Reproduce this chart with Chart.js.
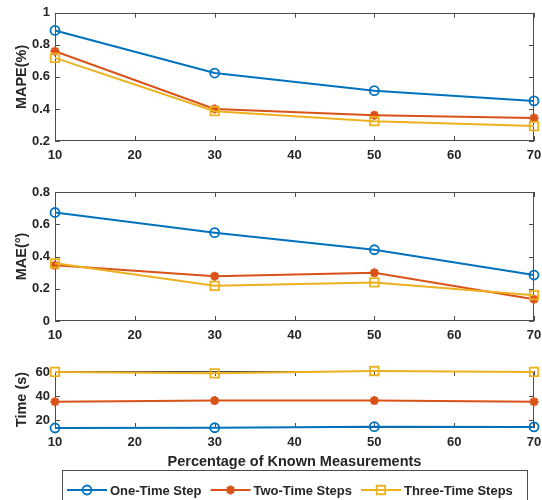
<!DOCTYPE html>
<html>
<head>
<meta charset="utf-8">
<script src="https://cdn.jsdelivr.net/npm/chart.js@4.4.0/dist/chart.umd.min.js"></script>
<style>
  body { margin: 0; background: #fff; width: 542px; height: 500px; position: relative; overflow: hidden }
  canvas { position: absolute; left: 0 }
</style>
</head>
<body>
<canvas id="c1" width="542" height="165" style="top:0"></canvas>
<canvas id="c2" width="542" height="180" style="top:165px"></canvas>
<canvas id="c3" width="542" height="155" style="top:345px"></canvas>
<script>
const pct = [10, 30, 50, 70]
const xTicks = [10, 20, 30, 40, 50, 60, 70]
const names = ['One-Time Step', 'Two-Time Steps', 'Three-Time Steps']

const mapeOne = [0.89, 0.624, 0.514, 0.45]
const mapeTwo = [0.76, 0.40, 0.361, 0.343]
const mapeThree = [0.719, 0.386, 0.324, 0.293]
const mapeTicks = [0.2, 0.4, 0.6, 0.8, 1]

const maeOne = [0.673, 0.548, 0.442, 0.285]
const maeTwo = [0.345, 0.278, 0.299, 0.135]
const maeThree = [0.358, 0.218, 0.239, 0.16]
const maeTicks = [0, 0.2, 0.4, 0.6, 0.8]

const timeOne = [13.7, 13.9, 14.8, 14.6]
const timeTwo = [35.5, 36.5, 36.5, 35.5]
const timeThree = [60.2, 59.1, 61, 60.2]
const timeTicks = [20, 40, 60]

const colors = ['#0072BD', '#D95319', '#EDB120']
const markers = ['circle', 'star', 'rect']
const radii = [4.5, 4.5, 6]
const markerWidths = [1.8, 2.6, 1.8]
const FONT = "'Liberation Sans', Arial, sans-serif"
const TXT = '#262626'
const AX = '#4d4d4d'

function makeSets(vals) {
  return vals.map((v, i) => ({
    label: names[i],
    data: pct.map((x, j) => ({ x: x, y: v[j] })),
    borderColor: colors[i],
    backgroundColor: colors[i],
    pointStyle: markers[i],
    pointRadius: radii[i],
    pointBorderWidth: markerWidths[i],
    pointBackgroundColor: 'rgba(0,0,0,0)',
    borderWidth: 2,
    tension: 0,
    clip: false,
    order: 3 - i
  }))
}

// box round the plot area with inward ticks on all four sides
const boxTicks = {
  id: 'boxTicks',
  beforeDatasetsDraw(chart) {
    const { ctx, chartArea: { left, right, top, bottom }, scales: { x, y } } = chart
    ctx.save()
    ctx.strokeStyle = AX
    ctx.lineWidth = 1
    ctx.strokeRect(Math.round(left) + 0.5, Math.round(top) + 0.5, Math.round(right - left) - 1, Math.round(bottom - top) - 1)
    ctx.beginPath()
    x.ticks.forEach(t => {
      const px = Math.round(x.getPixelForValue(t.value)) + 0.5
      ctx.moveTo(px, bottom); ctx.lineTo(px, bottom - 5)
      ctx.moveTo(px, top); ctx.lineTo(px, top + 5)
    })
    y.ticks.forEach(t => {
      const py = Math.round(y.getPixelForValue(t.value)) + 0.5
      ctx.moveTo(left, py); ctx.lineTo(left + 5, py)
      ctx.moveTo(right, py); ctx.lineTo(right - 5, py)
    })
    ctx.stroke()
    ctx.restore()
  }
}

const boxLegend = {
  id: 'boxLegend',
  afterDraw(chart) {
    const ctx = chart.ctx
    ctx.save()
    ctx.strokeStyle = AX
    ctx.lineWidth = 1
    ctx.strokeRect(62.5, 125.5, 465, 40)
    ctx.font = 'bold 13px ' + FONT
    ctx.textBaseline = 'middle'
    ctx.textAlign = 'left'
    const yc = 145
    let xs = 67
    chart.data.datasets.forEach((ds, i) => {
      ctx.strokeStyle = colors[i]
      ctx.lineWidth = 2
      ctx.beginPath(); ctx.moveTo(xs, yc); ctx.lineTo(xs + 40, yc); ctx.stroke()
      ctx.fillStyle = 'rgba(0,0,0,0)'
      ctx.lineWidth = markerWidths[i]
      Chart.helpers.drawPoint(ctx, { pointStyle: markers[i], radius: radii[i], borderWidth: markerWidths[i], rotation: 0 }, xs + 20, yc)
      ctx.fillStyle = TXT
      ctx.fillText(ds.label, xs + 43, yc + 1)
      xs += 43 + ctx.measureText(ds.label).width + 9
    })
    ctx.restore()
  }
}

const fmt = v => String(+v.toFixed(2))

function makeChart(id, vals, yTicks, yMin, yMax, yTitle, padTop, xHeight, padBottom, xTitle, extra) {
  return new Chart(document.getElementById(id), {
    type: 'line',
    data: { datasets: makeSets(vals) },
    options: {
      responsive: false,
      animation: false,
      layout: { padding: { top: padTop, right: 8, bottom: padBottom, left: 0 } },
      plugins: { legend: { display: false }, tooltip: { enabled: false } },
      scales: {
        x: {
          type: 'linear', min: 10, max: 70,
          afterBuildTicks: s => { s.ticks = xTicks.map(v => ({ value: v })) },
          afterFit: s => { s.height = xHeight; s.paddingLeft = 0; s.paddingRight = 0 },
          grid: { display: false, drawTicks: false },
          border: { display: false },
          ticks: { padding: 7, color: TXT, maxRotation: 0, autoSkip: false, callback: fmt, font: { family: FONT, size: 13, weight: 'bold' } },
          title: { display: !!xTitle, text: xTitle, color: TXT, font: { family: FONT, size: 14.5, weight: 'bold' }, padding: { top: 4, bottom: 4 } }
        },
        y: {
          min: yMin, max: yMax,
          afterBuildTicks: s => { s.ticks = yTicks.map(v => ({ value: v })) },
          afterFit: s => { s.width = 55 },
          grid: { display: false, drawTicks: false },
          border: { display: false },
          ticks: { padding: 5, color: TXT, callback: fmt, font: { family: FONT, size: 13, weight: 'bold' } },
          title: { display: true, text: yTitle, color: TXT, font: { family: FONT, size: 14.5, weight: 'bold' }, padding: { top: 13, bottom: 0 } }
        }
      }
    },
    plugins: [boxTicks].concat(extra)
  })
}

makeChart('c1', [mapeOne, mapeTwo, mapeThree], mapeTicks, 0.2, 1, 'MAPE(%)', 12, 24, 0, '', [])
makeChart('c2', [maeOne, maeTwo, maeThree], maeTicks, 0, 0.8, 'MAE(°)', 27, 24, 0, '', [])
makeChart('c3', [timeOne, timeTwo, timeThree], timeTicks, 13.7, 61, 'Time (s)', 26, 47, 25, 'Percentage of Known Measurements', [boxLegend])
</script>
</body>
</html>
